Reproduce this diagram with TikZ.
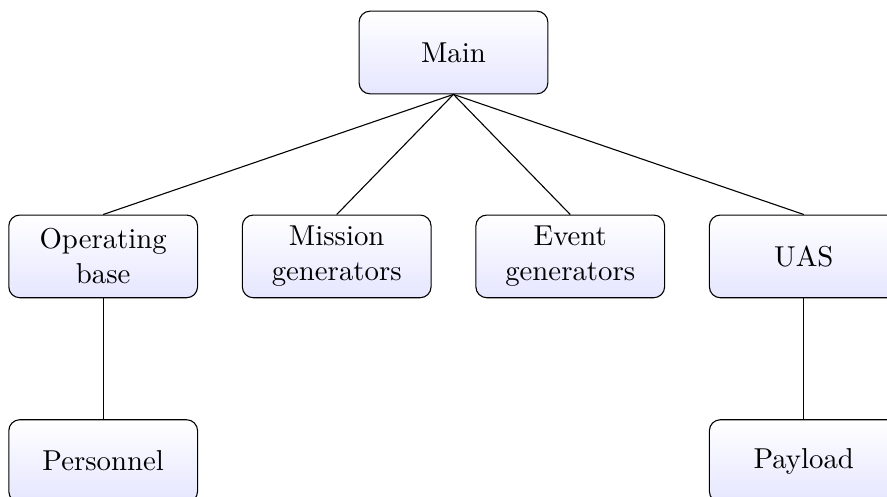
\documentclass[tikz,border=0pt]{standalone}
\usetikzlibrary{positioning}

\begin{document}
\begin{tikzpicture}[
    font=\fontsize{10.5pt}{12.8pt}\selectfont,
    box/.style={draw, rounded corners, align=center, text width=2.1cm, minimum width=2.42cm, minimum height=1.06cm, top color=white, bottom color=blue!10},
    link/.style={draw, black}
]

    % Frame of the page (the picture is cut at right and bottom)
    \clip (-5.814,-5.686) rectangle (5.558,0.673);

    % Root
    \node[box] (main) {Main};

    % First level
    \node[box, below left=1.54cm and 0.28cm of main.south, anchor=north east] (mission) {Mission\\generators};
    \node[box, right=0.56cm of mission] (event) {Event\\generators};
    \node[box, left=0.56cm of mission] (opbase) {Operating\\base};
    \node[box, right=0.56cm of event] (uas) {UAS};

    % Second level
    \node[box, below=1.55cm of opbase] (personnel) {Personnel};
    \node[box, below=1.55cm of uas] (payload) {Payload};

    % Connections
    \draw[link] (main.south) -- (opbase.north);
    \draw[link] (main.south) -- (mission.north);
    \draw[link] (main.south) -- (event.north);
    \draw[link] (main.south) -- (uas.north);
    \draw[link] (opbase.south) -- (personnel.north);
    \draw[link] (uas.south) -- (payload.north);

\end{tikzpicture}
\end{document}
